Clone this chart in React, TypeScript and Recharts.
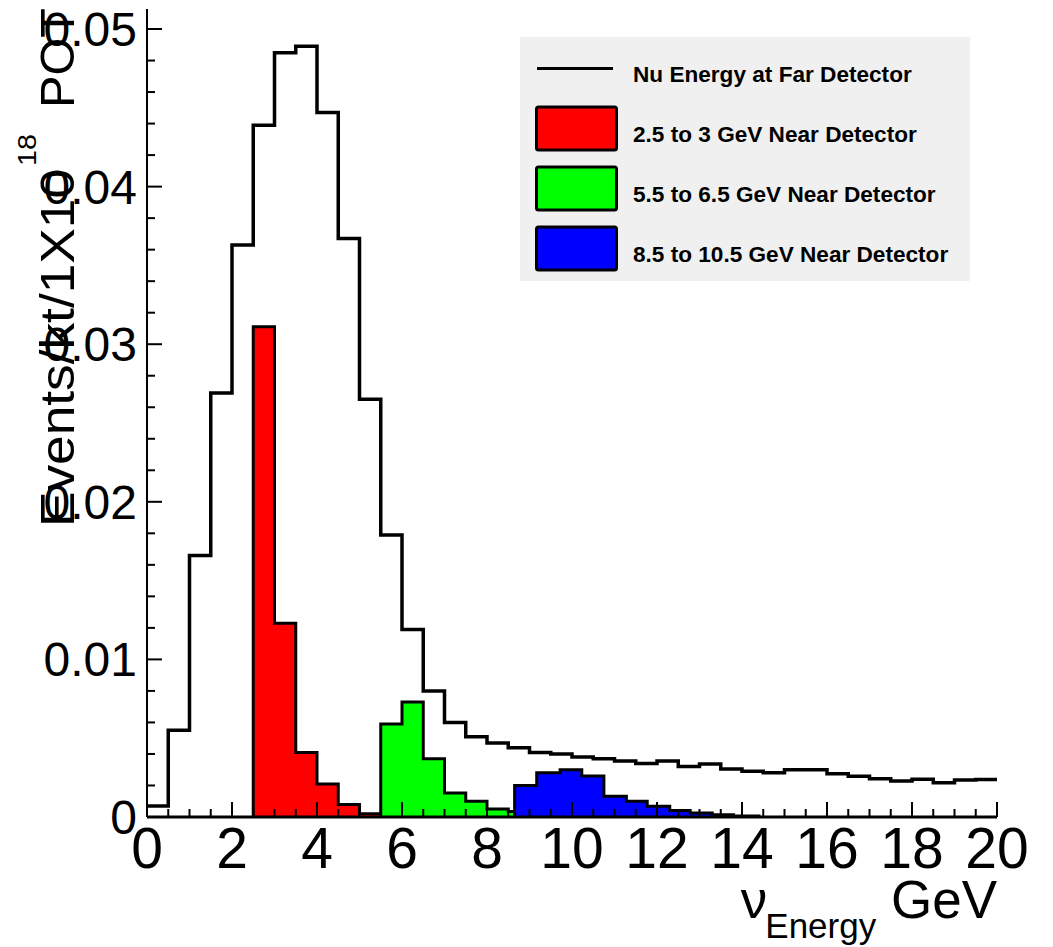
import React from 'react';
import { ComposedChart, Line, Area, XAxis, YAxis, Legend } from 'recharts';

// ---------- data ----------
const FAR_BIN_START = 0;
const FAR_BIN_WIDTH = 0.5;
const farValues = [
  0.0007, 0.0055, 0.0166, 0.0269, 0.0363, 0.0439, 0.0485, 0.0489, 0.0447, 0.0367,
  0.0265, 0.0179, 0.0119, 0.008, 0.006, 0.0051, 0.0047, 0.0044, 0.0041, 0.004,
  0.0038, 0.0037, 0.00355, 0.0034, 0.00355, 0.0032, 0.00337, 0.00305, 0.0029, 0.0028,
  0.003, 0.003, 0.00274, 0.00258, 0.00242, 0.00228, 0.0024, 0.00217, 0.00234, 0.00238,
];
const redEdges = [2.5, 3, 3.5, 4, 4.5, 5, 5.5];
const redValues = [0.0311, 0.0123, 0.0041, 0.0021, 0.0008, 0.0002];
const greenEdges = [5.5, 6, 6.5, 7, 7.5, 8, 8.5, 9, 9.5, 10, 10.5];
const greenValues = [0.0059, 0.0073, 0.0037, 0.00153, 0.001, 0.0005, 0.00035, 0.00018, 0.0001, 0.0001];
const blueEdges = [8.65, 9.17, 9.72, 10.23, 10.75, 11.28, 11.77, 12.3, 12.78, 13.3, 13.8, 14.4];
const blueValues = [0.002, 0.0028, 0.003, 0.0026, 0.00132, 0.001, 0.00068, 0.00042, 0.00025, 0.00015, 0.00006];

const xMajorTicks = [0, 2, 4, 6, 8, 10, 12, 14, 16, 18, 20];
const yMajorTicks = [0, 0.01, 0.02, 0.03, 0.04, 0.05];
const yTickLabels = ['0', '0.01', '0.02', '0.03', '0.04', '0.05'];
const X_DOMAIN: [number, number] = [0, 20];
const Y_DOMAIN: [number, number] = [0, 0.05127];

const seriesNames = [
  'Nu Energy at Far Detector',
  '2.5 to 3 GeV Near Detector',
  '5.5 to 6.5 GeV Near Detector',
  '8.5 to 10.5 GeV Near Detector',
];
const seriesColors = ['#000000', '#ff0000', '#00ff00', '#0000ff'];

// ---------- helpers ----------
const farEdges = Array.from({ length: farValues.length + 1 }, (_, i) => FAR_BIN_START + i * FAR_BIN_WIDTH);
const farData = farValues
  .map((v, i) => ({ x: farEdges[i], y: v }))
  .concat([{ x: farEdges[farValues.length], y: farValues[farValues.length - 1] }]);

const filledData = (edges: number[], values: number[]) => [
  { x: edges[0], y: 0 },
  ...values.map((v, i) => ({ x: edges[i], y: v })),
  { x: edges[values.length], y: 0 },
];
const redData = filledData(redEdges, redValues);
const greenData = filledData(greenEdges, greenValues);
const blueData = filledData(blueEdges, blueValues);

const xTicks = Array.from({ length: 41 }, (_, i) => i * 0.5);
const yTicks = Array.from({ length: 26 }, (_, i) => +(i * 0.002).toFixed(3));
const isMajorX = (v: number) => xMajorTicks.some((m) => Math.abs(m - v) < 1e-9);
const majorYIndex = (v: number) => yMajorTicks.findIndex((m) => Math.abs(m - v) < 1e-9);

const FONT = '"Liberation Sans", Arial, Helvetica, sans-serif';
const MAJOR = 15;
const MINOR = 8;

const BottomTick = (props: any) => {
  const { x, y, payload } = props;
  const major = isMajorX(payload.value);
  return (
    <g>
      <line x1={x} x2={x} y1={y} y2={y - (major ? MAJOR : MINOR)} stroke="#000" strokeWidth={2} />
      {major && (
        <text x={x} y={y + 51} textAnchor="middle" fontSize={57} fontFamily={FONT} fill="#000">
          {payload.value}
        </text>
      )}
    </g>
  );
};
const TopTick = (props: any) => {
  const { x, y, payload } = props;
  const major = isMajorX(payload.value);
  return <line x1={x} x2={x} y1={y} y2={y + (major ? MAJOR : MINOR)} stroke="#000" strokeWidth={2} />;
};
const LeftTick = (props: any) => {
  const { x, y, payload } = props;
  const idx = majorYIndex(payload.value);
  const major = idx >= 0;
  return (
    <g>
      <line x1={x} x2={x + (major ? MAJOR : MINOR)} y1={y} y2={y} stroke="#000" strokeWidth={2} />
      {major && (
        <text x={x - 10} y={y + 17} textAnchor="end" fontSize={48} fontFamily={FONT} fill="#000">
          {yTickLabels[idx]}
        </text>
      )}
    </g>
  );
};
const RightTick = (props: any) => {
  const { x, y, payload } = props;
  const major = majorYIndex(payload.value) >= 0;
  return <line x1={x} x2={x - (major ? MAJOR : MINOR)} y1={y} y2={y} stroke="#000" strokeWidth={2} />;
};

const YTitle = () => (
  <text transform="translate(74,527) rotate(-90)" fontSize={49} fontFamily={FONT} fill="#000">
    <tspan textLength={358} lengthAdjust="spacingAndGlyphs">Events/kt/1X10</tspan>
    <tspan fontSize={26} dy={-38} dx={3} textLength={32} lengthAdjust="spacingAndGlyphs">18</tspan>
    <tspan dy={38} dx={26} textLength={100} lengthAdjust="spacingAndGlyphs">POT</tspan>
  </text>
);
const XTitle = () => (
  <text x={997} y={918} textAnchor="end" fontSize={53} fontFamily={FONT} fill="#000">
    <tspan>ν</tspan>
    <tspan fontSize={35} dy={20} dx={-2}>Energy</tspan>
    <tspan dy={-20}> GeV</tspan>
  </text>
);

const LegendBox = () => (
  <svg width={450} height={244} style={{ display: 'block' }}>
    <rect x={0} y={0} width={450} height={244} fill="#f0f0f0" />
    {seriesNames.map((name, i) => {
      const cy = 31.5 + 60 * i;
      return (
        <g key={name}>
          {i === 0 ? (
            <line x1={17} x2={93} y1={cy} y2={cy} stroke={seriesColors[i]} strokeWidth={3} />
          ) : (
            <rect x={16.5} y={cy - 21.5} width={80} height={43} rx={2} fill={seriesColors[i]} stroke="#000" strokeWidth={3} />
          )}
          <text x={113} y={cy + 13} fontSize={22.6} fontWeight="bold" fontFamily={FONT} fill="#000">
            {name}
          </text>
        </g>
      );
    })}
  </svg>
);

export default function App() {
  return (
    <div>
      <style>{'body{margin:0;overflow:hidden;background:#fff}'}</style>
      <ComposedChart width={1053} height={947} margin={{ top: 9, right: 56, bottom: 0, left: 0 }}>
        <XAxis
          xAxisId="main"
          dataKey="x"
          type="number"
          domain={X_DOMAIN}
          allowDataOverflow
          ticks={xTicks}
          interval={0}
          tickSize={0}
          tickMargin={0}
          tickLine={false}
          tick={<BottomTick />}
          height={130}
          axisLine={{ stroke: '#000', strokeWidth: 3 }}
          label={<XTitle />}
        />
        <XAxis
          xAxisId="top"
          orientation="top"
          dataKey="x"
          type="number"
          domain={X_DOMAIN}
          allowDataOverflow
          ticks={xTicks}
          interval={0}
          tickSize={0}
          tickMargin={0}
          tickLine={false}
          tick={<TopTick />}
          height={0}
          axisLine={{ stroke: '#000', strokeWidth: 2 }}
        />
        <YAxis
          yAxisId="main"
          type="number"
          domain={Y_DOMAIN}
          allowDataOverflow
          ticks={yTicks}
          interval={0}
          tickSize={0}
          tickMargin={0}
          tickLine={false}
          tick={<LeftTick />}
          width={147}
          axisLine={{ stroke: '#000', strokeWidth: 2 }}
          label={<YTitle />}
        />
        <YAxis
          yAxisId="right"
          orientation="right"
          type="number"
          domain={Y_DOMAIN}
          allowDataOverflow
          ticks={yTicks}
          interval={0}
          tickSize={0}
          tickMargin={0}
          tickLine={false}
          tick={<RightTick />}
          width={0}
          axisLine={{ stroke: '#000', strokeWidth: 2 }}
        />
        <Line
          xAxisId="main"
          yAxisId="main"
          data={farData}
          dataKey="y"
          name={seriesNames[0]}
          type="stepAfter"
          stroke={seriesColors[0]}
          strokeWidth={3.5}
          dot={false}
          activeDot={false}
          isAnimationActive={false}
        />
        <Area
          xAxisId="main"
          yAxisId="main"
          data={redData}
          dataKey="y"
          name={seriesNames[1]}
          type="stepAfter"
          stroke="#000"
          strokeWidth={3}
          fill={seriesColors[1]}
          fillOpacity={1}
          dot={false}
          activeDot={false}
          isAnimationActive={false}
        />
        <Area
          xAxisId="main"
          yAxisId="main"
          data={greenData}
          dataKey="y"
          name={seriesNames[2]}
          type="stepAfter"
          stroke="#000"
          strokeWidth={3}
          fill={seriesColors[2]}
          fillOpacity={1}
          dot={false}
          activeDot={false}
          isAnimationActive={false}
        />
        <Area
          xAxisId="main"
          yAxisId="main"
          data={blueData}
          dataKey="y"
          name={seriesNames[3]}
          type="stepAfter"
          stroke="#000"
          strokeWidth={3}
          fill={seriesColors[3]}
          fillOpacity={1}
          dot={false}
          activeDot={false}
          isAnimationActive={false}
        />
        <Legend
          layout="vertical"
          align="center"
          verticalAlign="middle"
          content={<LegendBox />}
          wrapperStyle={{ left: 520, top: 37, width: 450, height: 244 }}
        />
      </ComposedChart>
    </div>
  );
}
